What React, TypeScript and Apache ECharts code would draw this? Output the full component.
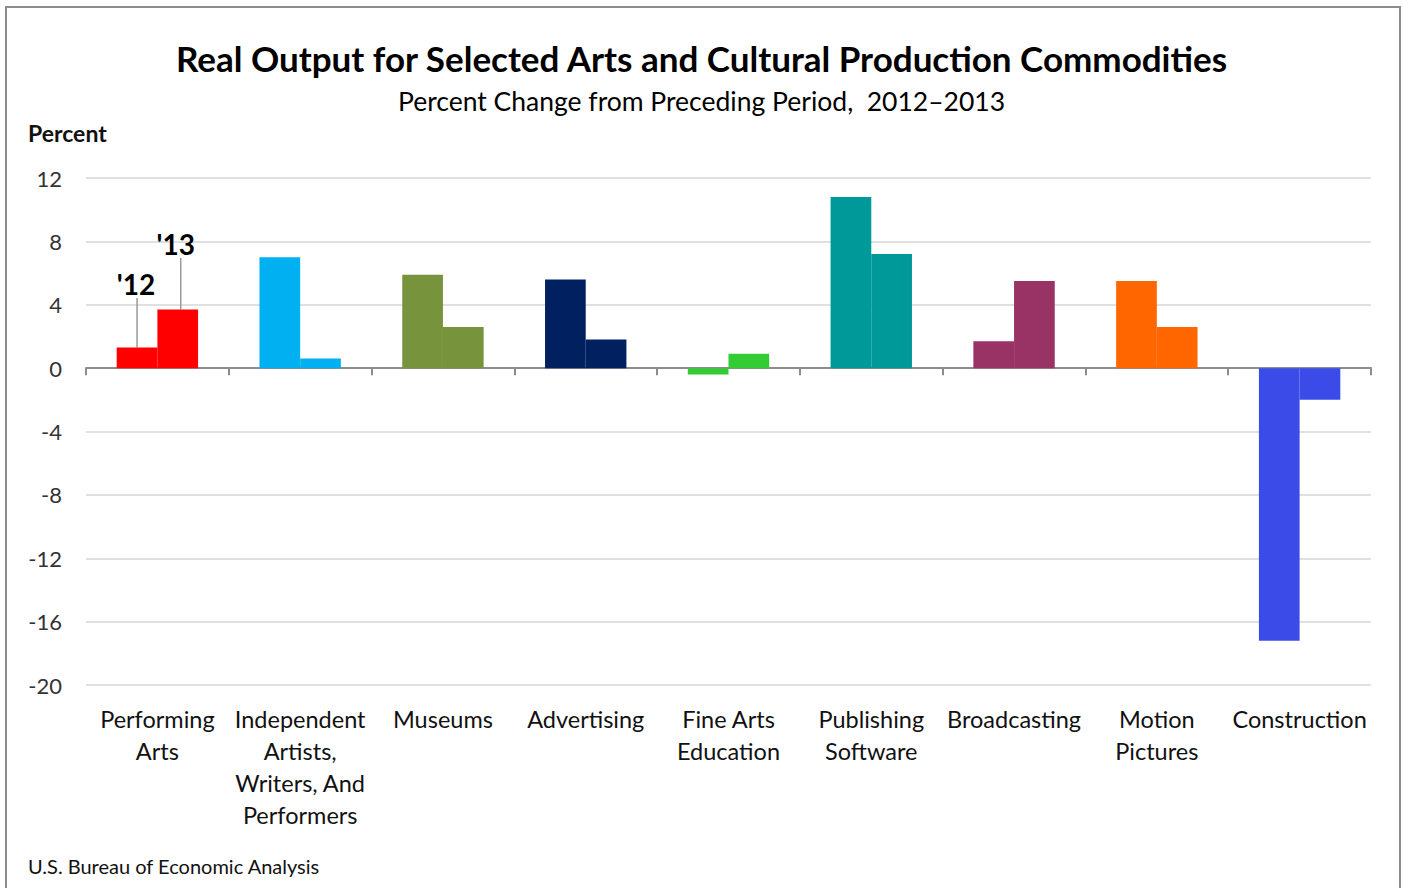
import React, { useEffect, useRef } from "react";
import * as echarts from "echarts";

const categories = [
  "Performing\nArts",
  "Independent\nArtists,\nWriters, And\nPerformers",
  "Museums",
  "Advertising",
  "Fine Arts\nEducation",
  "Publishing\nSoftware",
  "Broadcasting",
  "Motion\nPictures",
  "Construction",
];
const values2012 = [1.3, 7.0, 5.9, 5.6, -0.4, 10.8, 1.7, 5.5, -17.2];
const values2013 = [3.7, 0.6, 2.6, 1.8, 0.9, 7.2, 5.5, 2.6, -2.0];
const categoryColors = [
  "#FF0000",
  "#00B0F0",
  "#77933C",
  "#002060",
  "#33CC33",
  "#009999",
  "#993366",
  "#FF6600",
  "#3B4BE8",
];
const yTicks = { min: -20, max: 12, interval: 4 };
const FONT = "Lato, 'Open Sans', sans-serif";

export default function App() {
  const ref = useRef<HTMLDivElement>(null);
  useEffect(() => {
    document.body.style.margin = "0";
    if (!ref.current) return;
    const chart = echarts.init(ref.current, null, { renderer: "svg" });
    const catGap = 0.43;
    const option: any = {
      animation: false,
      backgroundColor: "#ffffff",
      textStyle: { fontFamily: FONT },
      title: [
        {
          text: "Real Output for Selected Arts and Cultural Production Commodities",
          left: "center",
          top: 35,
          textStyle: { fontSize: 35, fontWeight: "bold", color: "#000", fontFamily: FONT },
        },
        {
          text: "Percent Change from Preceding Period,  2012\u20132013",
          left: "center",
          top: 82,
          textStyle: { fontSize: 26.5, fontWeight: "normal", color: "#000", fontFamily: FONT },
        },
      ],
      grid: { left: 86, right: 32, top: 178, bottom: 203, containLabel: false },
      xAxis: [
        {
          type: "category",
          data: categories,
          axisLine: { show: true, onZero: true, lineStyle: { color: "#8c8c8c", width: 2 } },
          axisTick: { show: true, length: 7, inside: false, lineStyle: { color: "#8c8c8c", width: 2 } },
          axisLabel: { show: false },
          splitLine: { show: false },
        },
        {
          type: "category",
          data: categories,
          position: "bottom",
          axisLine: { show: false, onZero: false },
          axisTick: { show: false },
          axisLabel: {
            show: true,
            interval: 0,
            margin: 18,
            fontSize: 23.5,
            lineHeight: 32,
            color: "#111",
            fontFamily: FONT,
            align: "center",
          },
        },
      ],
      yAxis: {
        type: "value",
        min: yTicks.min,
        max: yTicks.max,
        interval: yTicks.interval,
        axisLine: { show: false },
        axisTick: { show: false },
        axisLabel: { fontSize: 22, color: "#333", margin: 24, fontFamily: FONT },
        splitLine: { show: true, lineStyle: { color: "#e0e0e0", width: 2 } },
      },
      series: [
        {
          name: "2012",
          type: "bar",
          xAxisIndex: 0,
          barGap: "0%",
          barCategoryGap: catGap * 100 + "%",
          data: values2012.map((v, i) => ({ value: v, itemStyle: { color: categoryColors[i] } })),
        },
        {
          name: "2013",
          type: "bar",
          xAxisIndex: 0,
          barGap: "0%",
          barCategoryGap: catGap * 100 + "%",
          data: values2013.map((v, i) => ({ value: v, itemStyle: { color: categoryColors[i] } })),
        },
      ],
    };
    chart.setOption(option);

    // Annotations for the first category ('12 and '13), located via the scales
    const c0 = chart.convertToPixel({ xAxisIndex: 0 }, 0) as number;
    const c1 = chart.convertToPixel({ xAxisIndex: 0 }, 1) as number;
    const catW = c1 - c0;
    const barW = (catW * (1 - catGap)) / 2;
    const x12 = c0 - barW / 2;
    const x13 = c0 + barW / 2;
    const y12 = chart.convertToPixel({ yAxisIndex: 0 }, values2012[0]) as number;
    const y13 = chart.convertToPixel({ yAxisIndex: 0 }, values2013[0]) as number;

    chart.setOption({
      graphic: [
        {
          type: "rect",
          shape: { x: 6, y: 7, width: 1394, height: 900 },
          style: { fill: "none", stroke: "#8c8c8c", lineWidth: 2 },
          silent: true,
          z: -1,
        },
        {
          type: "text",
          left: 28,
          top: 121,
          style: { text: "Percent", fill: "#111", font: `bold 23px ${FONT}` },
        },
        {
          type: "text",
          left: 28,
          top: 856,
          style: { text: "U.S. Bureau of Economic Analysis", fill: "#111", font: `20px ${FONT}` },
        },
        {
          type: "line",
          shape: { x1: x12, y1: 298, x2: x12, y2: y12 },
          style: { stroke: "#999", lineWidth: 1.5 },
        },
        {
          type: "line",
          shape: { x1: x13 + 3, y1: 258, x2: x13 + 3, y2: y13 },
          style: { stroke: "#999", lineWidth: 1.5 },
        },
        {
          type: "text",
          x: x12 - 1,
          y: 284,
          style: { text: "'12", font: `bold 28px ${FONT}`, fill: "#000", align: "center", verticalAlign: "middle" },
        },
        {
          type: "text",
          x: x13 - 2,
          y: 244,
          style: { text: "'13", font: `bold 28px ${FONT}`, fill: "#000", align: "center", verticalAlign: "middle" },
        },
      ],
    });

    return () => chart.dispose();
  }, []);
  return <div ref={ref} style={{ width: 1403, height: 888 }} />;
}
